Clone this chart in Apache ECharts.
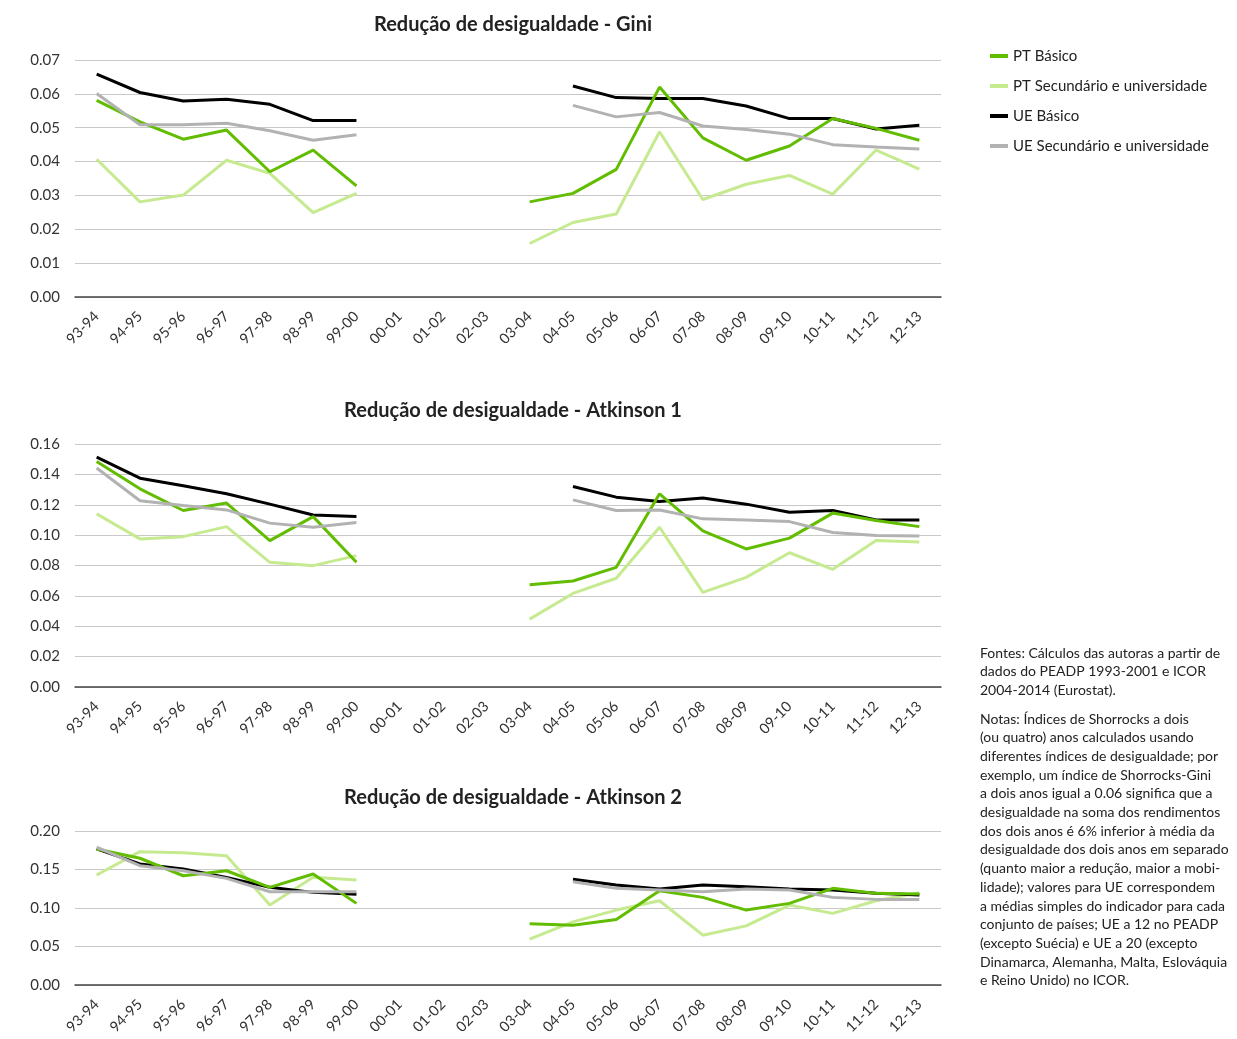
<!DOCTYPE html>
<html>
<head>
<meta charset="utf-8">
<script src="https://cdn.jsdelivr.net/npm/echarts@6/dist/echarts.min.js"></script>
<style>
html,body{margin:0;padding:0;background:#fff;}
#chart{width:1237px;height:1039px;}
</style>
</head>
<body>
<div id="chart"></div>
<script>
var categories = ['93-94','94-95','95-96','96-97','97-98','98-99','99-00','00-01','01-02','02-03','03-04','04-05','05-06','06-07','07-08','08-09','09-10','10-11','11-12','12-13'];
var seriesNames = ['PT Básico','PT Secundário e universidade','UE Básico','UE Secundário e universidade'];
var chartTitles = ['Redução de desigualdade - Gini','Redução de desigualdade - Atkinson 1','Redução de desigualdade - Atkinson 2'];
var n = null;

var giniPTBasico = [0.0581,0.0517,0.0466,0.0493,0.0370,0.0434,0.0328,n,n,n,0.0281,0.0306,0.0377,0.0620,0.0470,0.0404,0.0446,0.0527,0.0498,0.0463];
var giniPTSec    = [0.0407,0.0281,0.0301,0.0404,0.0365,0.0249,0.0306,n,n,n,0.0158,0.0220,0.0245,0.0488,0.0288,0.0333,0.0359,0.0304,0.0434,0.0378];
var giniUEBasico = [0.0658,0.0604,0.0579,0.0584,0.0569,0.0521,0.0521,n,n,n,n,0.0623,0.0589,0.0586,0.0586,0.0564,0.0527,0.0527,0.0496,0.0507];
var giniUESec    = [0.0601,0.0509,0.0509,0.0513,0.0491,0.0463,0.0479,n,n,n,n,0.0566,0.0532,0.0545,0.0505,0.0495,0.0481,0.0450,0.0443,0.0437];

var atk1PTBasico = [0.1485,0.1305,0.1162,0.1211,0.0964,0.1122,0.0821,n,n,n,0.0673,0.0698,0.0788,0.1272,0.1028,0.0909,0.0980,0.1145,0.1096,0.1056];
var atk1PTSec    = [0.1140,0.0975,0.0990,0.1056,0.0821,0.0799,0.0865,n,n,n,0.0447,0.0616,0.0716,0.1052,0.0623,0.0722,0.0884,0.0775,0.0964,0.0955];
var atk1UEBasico = [0.1514,0.1375,0.1325,0.1272,0.1204,0.1133,0.1122,n,n,n,n,0.1320,0.1250,0.1221,0.1244,0.1204,0.1151,0.1162,0.1100,0.1100];
var atk1UESec    = [0.1442,0.1226,0.1195,0.1166,0.1079,0.1052,0.1083,n,n,n,n,0.1232,0.1162,0.1166,0.1107,0.1100,0.1089,0.1017,0.0997,0.0995];

var atk2PTBasico = [0.1767,0.1646,0.1419,0.1484,0.1268,0.1441,0.1060,n,n,n,0.0794,0.0777,0.0851,0.1224,0.1138,0.0973,0.1060,0.1255,0.1190,0.1181];
var atk2PTSec    = [0.1428,0.1732,0.1719,0.1680,0.1038,0.1398,0.1363,n,n,n,0.0595,0.0820,0.0973,0.1094,0.0647,0.0768,0.1038,0.0930,0.1094,0.1198];
var atk2UEBasico = [0.1767,0.1572,0.1507,0.1398,0.1268,0.1203,0.1177,n,n,n,n,0.1372,0.1298,0.1246,0.1298,0.1276,0.1246,0.1233,0.1190,0.1168];
var atk2UESec    = [0.1789,0.1550,0.1484,0.1385,0.1211,0.1211,0.1211,n,n,n,n,0.1341,0.1255,0.1233,0.1211,0.1246,0.1233,0.1138,0.1112,0.1112];

var yMax = [0.07, 0.16, 0.20];
var yInterval = [0.01, 0.02, 0.05];

var notesFontes = ['Fontes: Cálculos das autoras a partir de','dados do PEADP 1993-2001 e ICOR','2004-2014 (Eurostat).'];
var notesNotas = ['Notas: Índices de Shorrocks a dois','(ou quatro) anos calculados usando','diferentes índices de desigualdade; por','exemplo, um índice de Shorrocks-Gini','a dois anos igual a 0.06 significa que a','desigualdade na soma dos rendimentos','dos dois anos é 6% inferior à média da','desigualdade dos dois anos em separado','(quanto maior a redução, maior a mobi-','lidade); valores para UE correspondem','a médias simples do indicador para cada','conjunto de países; UE a 12 no PEADP','(excepto Suécia) e UE a 20 (excepto','Dinamarca, Alemanha, Malta, Eslováquia','e Reino Unido) no ICOR.'];

var allData = [
  [giniPTBasico, giniPTSec, giniUEBasico, giniUESec],
  [atk1PTBasico, atk1PTSec, atk1UEBasico, atk1UESec],
  [atk2PTBasico, atk2PTSec, atk2UEBasico, atk2UESec]
];

var colors = ['#62bd00','#c6ea90','#000000','#b2b2b2'];
var zOrder = [4,2,3,5];
var FONT = 'Lato';
var gridTops = [60, 444, 831];
var gridHeights = [237, 243, 154];
var titleTops = [10, 396, 783];

var chart = echarts.init(document.getElementById('chart'));

var grids = [], xAxes = [], yAxes = [], series = [], titles = [];
for (var g = 0; g < 3; g++) {
  grids.push({left: 75, width: 866, top: gridTops[g], height: gridHeights[g]});
  titles.push({text: chartTitles[g], left: 508, top: titleTops[g], textAlign: 'center',
    textStyle: {fontFamily: FONT, fontSize: 20, fontWeight: 'bold', color: '#222'}});
  xAxes.push({type: 'category', gridIndex: g, data: categories, boundaryGap: true,
    axisLine: {lineStyle: {color: '#444', width: 1.5}}, axisTick: {show: false},
    axisLabel: {rotate: 45, fontFamily: FONT, fontSize: 14.5, color: '#333', margin: 17, interval: 0}});
  yAxes.push({type: 'value', gridIndex: g, min: 0, max: yMax[g], interval: yInterval[g],
    axisLine: {show: false}, axisTick: {show: false},
    splitLine: {lineStyle: {color: '#c8c8c8', width: 1}},
    axisLabel: {fontFamily: FONT, fontSize: 15, color: '#333', margin: 15,
      formatter: function (v) { return v.toFixed(2); }}});
  for (var s = 0; s < 4; s++) {
    series.push({name: seriesNames[s], type: 'line', xAxisIndex: g, yAxisIndex: g,
      data: allData[g][s], showSymbol: false, symbol: 'none', connectNulls: false,
      z: zOrder[s], lineStyle: {color: colors[s], width: 3}, itemStyle: {color: colors[s]},
      emphasis: {disabled: true}});
  }
}

var graphics = [];
var fy = 646;
notesFontes.forEach(function (t, i) {
  graphics.push({type: 'text', left: 980, top: fy + i * 18.7,
    style: {text: t, font: '14px ' + FONT, fill: '#222'}});
});
var ny = 712;
notesNotas.forEach(function (t, i) {
  graphics.push({type: 'text', left: 980, top: ny + i * 18.7,
    style: {text: t, font: '14px ' + FONT, fill: '#222'}});
});

chart.setOption({
  animation: false,
  backgroundColor: '#fff',
  title: titles,
  legend: {orient: 'vertical', left: 985, top: 42, itemGap: 12, itemWidth: 18, itemHeight: 4,
    icon: 'rect', data: seriesNames,
    textStyle: {fontFamily: FONT, fontSize: 15, color: '#222', lineHeight: 18}},
  grid: grids,
  xAxis: xAxes,
  yAxis: yAxes,
  series: series,
  graphic: graphics
});
</script>
</body>
</html>
